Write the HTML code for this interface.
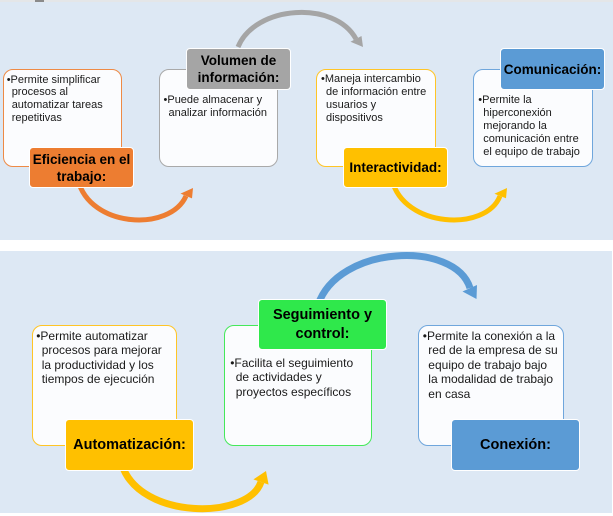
<!DOCTYPE html>
<html><head><meta charset="utf-8"><style>
html,body{margin:0;padding:0;}
body{width:613px;height:516px;position:relative;overflow:hidden;background:#fff;font-family:"Liberation Sans",Arial,sans-serif;}
.abs{position:absolute;}
.box{position:absolute;background:#fbfcfe;border:1px solid;border-radius:10px;box-sizing:border-box;}
.txt{position:absolute;white-space:nowrap;color:#1a1a1a;font-size:11px;line-height:13px;padding-left:5px;text-indent:-5px;}
.txt.b{font-size:12px;line-height:14.5px;padding-left:5.5px;text-indent:-5.5px;}
.lbl{position:absolute;box-sizing:border-box;border:1px solid #fff;border-radius:4px;display:flex;align-items:center;justify-content:center;text-align:center;font-weight:bold;color:#000;white-space:nowrap;}
.t{font-size:13.5px;line-height:17px;}
.bt{font-size:14.5px;line-height:19px;}
</style></head><body>
<div class="abs" style="left:0;top:0;width:613px;height:2px;background:#e4e6e8"></div>
<div class="abs" style="left:35px;top:0;width:9px;height:2px;background:#8a8a8a"></div>
<div class="abs" style="left:0;top:2px;width:613px;height:238px;background:#dde8f4"></div>
<div class="abs" style="left:0;top:251px;width:612px;height:262px;background:#dde8f4"></div>

<svg class="abs" style="left:0;top:0" width="613" height="516" viewBox="0 0 613 516">
  <!-- grey -->
  <path d="M238,47 C255,5 335,0 356,39" fill="none" stroke="#a5a5a5" stroke-width="5"/>
  <polygon points="350.5,41.8 361.5,36 363,47" fill="#a5a5a5"/>
  <!-- orange -->
  <path d="M78,180 C90,228 170,232 186,196" fill="none" stroke="#ed7d31" stroke-width="5"/>
  <polygon points="180.5,193.6 192,198.4 193,188" fill="#ed7d31"/>
  <!-- yellow top -->
  <path d="M392,180 C404,228 486,232 500,196" fill="none" stroke="#ffc000" stroke-width="5"/>
  <polygon points="494.4,193.8 506,198.2 507,188" fill="#ffc000"/>
  <!-- blue -->
  <path d="M318,305 C338,245 455,240 470,288" fill="none" stroke="#5b9bd5" stroke-width="7"/>
  <polygon points="462.5,291.5 477,285 476.5,299" fill="#5b9bd5"/>
  <!-- yellow bottom -->
  <path d="M122,465 C140,520 248,520 261,482" fill="none" stroke="#ffc000" stroke-width="7"/>
  <polygon points="253.4,479.4 268.6,484.6 266,471" fill="#ffc000"/>
</svg>

<!-- Top row -->
<div class="box" style="left:3px;top:69px;width:119px;height:98px;border-color:#ee8a45"></div>
<div class="txt" style="left:6.7px;top:73.6px;line-height:12.7px">•Permite simplificar<br>procesos al<br>automatizar tareas<br>repetitivas</div>
<div class="lbl t" style="left:29px;top:147px;width:105px;height:41px;background:#ed7d31">Eficiencia en el<br>trabajo:</div>

<div class="box" style="left:159px;top:69px;width:119px;height:98px;border-color:#a9a9a9"></div>
<div class="txt" style="left:163.5px;top:93.5px">•Puede almacenar y<br>analizar información</div>
<div class="lbl t" style="left:186px;top:48px;width:105px;height:42px;background:#a5a5a5">Volumen de<br>información:</div>

<div class="box" style="left:316px;top:69px;width:120px;height:98px;border-color:#ffc526"></div>
<div class="txt" style="left:321px;top:72.5px">•Maneja intercambio<br>de información entre<br>usuarios y<br>dispositivos</div>
<div class="lbl t" style="left:343px;top:147px;width:105px;height:41px;background:#ffc000">Interactividad:</div>

<div class="box" style="left:473px;top:69px;width:120px;height:98px;border-color:#6fa6dc"></div>
<div class="txt" style="left:478.3px;top:93.5px">•Permite la<br>hiperconexión<br>mejorando la<br>comunicación entre<br>el equipo de trabajo</div>
<div class="lbl t" style="left:500px;top:48px;width:105px;height:42px;background:#5b9bd5">Comunicación:</div>

<!-- Bottom row -->
<div class="box" style="left:32px;top:325px;width:145px;height:121px;border-color:#ffc526"></div>
<div class="txt b" style="left:36.2px;top:328.7px">•Permite automatizar<br>procesos para mejorar<br>la productividad y los<br>tiempos de ejecución</div>
<div class="lbl bt" style="left:65px;top:419px;width:129px;height:52px;background:#ffc000">Automatización:</div>

<div class="box" style="left:224px;top:325px;width:148px;height:121px;border-color:#45e85a"></div>
<div class="txt b" style="left:230.2px;top:355.5px">•Facilita el seguimiento<br>de actividades y<br>proyectos específicos</div>
<div class="lbl bt" style="left:258px;top:299px;width:129px;height:51px;background:#2fe84b">Seguimiento y<br>control:</div>

<div class="box" style="left:418px;top:325px;width:146px;height:121px;border-color:#6fa6dc"></div>
<div class="txt b" style="left:422.8px;top:328.5px">•Permite la conexión a la<br>red de la empresa de su<br>equipo de trabajo bajo<br>la modalidad de trabajo<br>en casa</div>
<div class="lbl bt" style="left:451px;top:419px;width:129px;height:52px;background:#5b9bd5">Conexión:</div>
</body></html>
